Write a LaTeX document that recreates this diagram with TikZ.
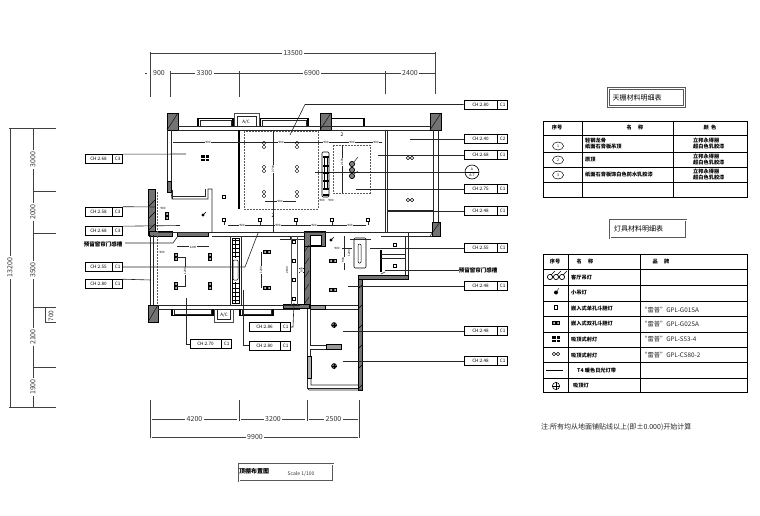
\documentclass[tikz,border=0pt]{standalone}
\usepackage{fontspec}
\setmainfont{Noto Sans CJK SC}
\usetikzlibrary{positioning}
\tikzset{
  tagbox/.style={draw,line width=0.6pt,minimum width=33pt,minimum height=9pt,inner sep=0pt,font=\fontsize{4.6}{5}\selectfont},
  codebox/.style={draw,line width=0.6pt,minimum width=10pt,minimum height=9pt,inner sep=0pt,font=\fontsize{4.6}{5}\selectfont},
  dimtext/.style={fill=white,inner sep=1.5pt,font=\fontsize{7}{8}\selectfont,text=black!80},
  smalldim/.style={fill=white,inner sep=0.4pt,font=\fontsize{3}{3}\selectfont},
  dimline/.style={line width=0.6pt,black!75},
  wallblock/.style={draw,line width=0.5pt,fill=black!55},
  wallline/.style={line width=0.6pt,black!85},
  darkline/.style={line width=1.3pt,black},
  ceilingline/.style={line width=0.7pt,black!65,dashed,dash pattern=on 2pt off 1pt},
  spot/.style={draw,fill=white,line width=1pt,minimum size=3.4pt,inner sep=0pt},
  cell/.style={font=\fontsize{5.2}{6}\selectfont\bfseries,inner sep=0pt,align=left},
  titlebox/.style={draw,black!65,double,double distance=1pt,line width=0.7pt,minimum width=76pt,minimum height=18pt,inner sep=0pt},
  titletext/.style={inner sep=0pt,font=\fontsize{7}{8}\selectfont},
  ringlamp/.pic={\draw[line width=0.4pt] (0,-2) circle (1.8) (0,2) circle (1.8);},
  ringwide/.pic={\draw[line width=0.5pt] (-2,0) circle (1.8) (2,0) circle (1.8);},
  twinlamp/.pic={\fill (-4,-2.2) rectangle (4,2.2);\fill[white] (-2,0) circle (1) (2,0) circle (1);},
  twintall/.pic={\fill (-2.2,-4) rectangle (2.2,4);\fill[white] (0,-2) circle (1) (0,2) circle (1);},
  fourlamp/.pic={\fill (-3.6,-3.2) rectangle (3.6,3.2);\draw[white,line width=0.6pt] (-3.6,0)--(3.6,0) (0,-3.2)--(0,3.2);},
  pendant/.pic={\fill (0,0) circle (1.6);\draw[line width=0.4pt] (0,0)--(3,-3);},
  roundlamp/.pic={\draw[fill=black!60,line width=0.5pt] (0,0) circle (2.5);\draw[black,line width=0.4pt] (-2.5,0)--(2.5,0) (0,-2.5)--(0,2.5);}
}
\begin{document}
\begin{tikzpicture}[x=1pt,y=-1pt]
\useasboundingbox[fill=white] (0,0) rectangle (760,516);
% overall dimensions, top
\draw[dimline] (150.5,52)--(150.5,97);
\draw[dimline] (435.5,52)--(435.5,94);
\draw[dimline] (170,71)--(170,97);
\draw[dimline] (239,71)--(239,97);
\draw[dimline] (385,71)--(385,94);
\draw[dimline] (151,53.5)--(435,53.5) node[dimtext,pos=0.5]{13500};
\draw[dimline] (145,73.5)--(147,73.5);
\node[dimtext] (d900) at (159,73.5){900};
\draw[dimline] (170,73.5)--(239,73.5) node[dimtext,midway]{3300};
\draw[dimline] (239,73.5)--(385,73.5) node[dimtext,midway]{6900};
\draw[dimline] (385,73.5)--(435,73.5) node[dimtext,midway]{2400};
% overall dimensions, left
\draw[dimline] (9,128)--(56,128);
\draw[dimline] (9,407)--(56,407);
\foreach \yy in {191,233,307,367}
  \draw[dimline] (33,\yy)--(56,\yy);
\draw[dimline] (45,322)--(56,322);
\draw[dimline] (45,307)--(45,322);
\draw[dimline] (10,128)--(10,407) node[dimtext,pos=0.5,rotate=90]{13200};
\draw[dimline] (33,128)--(33,191) node[dimtext,midway,rotate=90]{3000};
\draw[dimline] (33,191)--(33,233) node[dimtext,midway,rotate=90]{2000};
\draw[dimline] (33,233)--(33,307) node[dimtext,midway,rotate=90]{3500};
\draw[dimline] (33,307)--(33,367) node[dimtext,midway,rotate=90]{2100};
\draw[dimline] (33,367)--(33,407) node[dimtext,midway,rotate=90]{1900};
\node[rotate=90,inner sep=0pt,font=\fontsize{6.5}{7}\selectfont,text=black!80] (d700) at (51,316){700};
% overall dimensions, bottom
\draw[dimline] (150,400)--(150,438);
\draw[dimline] (239,400)--(239,421);
\draw[dimline] (307,400)--(307,421);
\draw[dimline] (359,400)--(359,438);
\draw[dimline] (152,419)--(237,419) node[dimtext,midway]{4200};
\draw[dimline] (241,419)--(305,419) node[dimtext,midway]{3200};
\draw[dimline] (309,419)--(358,419) node[dimtext,midway]{2500};
\draw[dimline] (152,437)--(358,437) node[dimtext,midway]{9900};
% columns and heavy walls
\foreach \xa/\xb/\ya/\yb in {167/178/113/130,320/331/113/130,430/441/113/130,148/158/305/322,148/155/189/235,432/440/222/236,304/310/236/306,358/362/276/390,149/172/231/236,177/208/232/236,358/408/275/279,304/325/231/246,283/309/304/308}
  \draw[wallblock] (\xa,\yb) rectangle (\xb,\ya);
\draw (167,130)--(178,113) (320,130)--(331,113) (430,130)--(441,113) (148,322)--(158,305) (430,236)--(440,222);
\draw[white,fill=white] (310,235) rectangle (321,245);
\draw[line width=0.5pt] (310,235) rectangle (321,245);
% outer walls
\draw[wallline] (178,126)--(430,126) (178,130)--(320,130) (331,130)--(430,130);
\draw[wallline] (167,130)--(167,181) (171,130)--(171,181);
\draw[wallblock] (167,181) rectangle (171,192);
\draw[wallline] (171,192)--(172,199)--(208,199)--(208,189)--(212,189)--(212,232);
\draw[wallline] (172,190)--(172,199) (173,196)--(205,196)--(205,189);
\draw[wallline] (150,235)--(150,305) (153,235)--(153,305);
\draw[ceilingline] (157,192)--(157,232) (157,236)--(157,305);
\draw[wallline] (158,232)--(381,232) (212,236)--(304,236);
\draw[wallline] (158,305)--(300,305) (158,309)--(300,309);
\draw[wallline] (387,130)--(387,232) (385,130)--(385,232) (433,130)--(433,222) (438,130)--(438,222);
\draw[wallline] (387,210.5)--(433,210.5) (387,236)--(432,236) (381,232)--(432,232);
% windows
\draw[darkline] (198,126)--(198,118.5)--(233,118.5)--(233,126);
\draw[wallline] (200,126)--(200,120)--(231,120)--(231,126);
\draw[darkline] (260,126)--(260,118.5)--(308,118.5)--(308,126);
\draw[wallline] (262,126)--(262,120)--(306,120)--(306,126);
\draw[darkline] (331,118.5)--(364,118.5)--(364,126);
\draw[line width=0.9pt,black!70] (234,126)--(234,113)--(259,113)--(259,126);
\draw[wallline] (237,126)--(237,116)--(256,116)--(256,126);
\node[inner sep=0pt,font=\fontsize{4.5}{5}\selectfont] (ac1) at (246,122){A/C};
\draw[darkline] (172,309)--(172,315.5)--(213,315.5)--(213,309);
\draw[darkline] (240,309)--(240,315.5)--(273,315.5)--(273,309);
\draw[wallline] (174,309)--(174,314)--(211,314)--(211,309) (242,309)--(242,314)--(271,314)--(271,309);
\draw[line width=0.9pt,black!70] (214,309)--(214,322)--(233,322)--(233,309);
\draw[wallline] (217,309)--(217,319)--(230,319)--(230,309);
\node[inner sep=0pt,font=\fontsize{4.5}{5}\selectfont] (ac2) at (224,315){A/C};
% ceiling trays
\draw[darkline,line width=2pt] (239,130)--(239,209);
\draw[ceilingline] (244,131) rectangle (318,209);
\draw[ceilingline] (333,145) rectangle (370,193);
\draw[wallline] (273,130)--(273,232) (342,145)--(342,193);
\draw[wallline] (315,172)--(465,172);
% top room small dims
\draw[wallline] (173,142)--(382,142);
\foreach \xx in {208,281,326,352,376}
  \node[smalldim] at (\xx,142){900};
\draw[wallline] (265,201)--(296,201);
\node[smalldim] at (280,201){900};
\node[smalldim,rotate=90] at (273,169){2700};
\node[smalldim,rotate=90] at (342,162){2100};
\node[inner sep=0pt,font=\fontsize{5}{5}\selectfont] (mark1) at (273,216){2};
\node[inner sep=0pt,font=\fontsize{5}{5}\selectfont] (mark2) at (342,135){2};
% light row at y=220
\draw[wallline] (228,225)--(366,225);
\foreach \xx in {242,278,314,350}
  \node[smalldim] at (\xx,225){900};
\foreach \xx in {224,260,296,332,368}{
  \node[spot] (s\xx) at (\xx,220){};
  \draw[wallline] (s\xx.south)--(\xx,225);
}
\node[spot] (sp1) at (224,197){};
% lamps
\foreach \xx in {264,297}
  \foreach \yy in {145,169,194}
    \pic at (\xx,\yy) {ringlamp};
\foreach \yy in {158,200}
  \pic at (410,\yy) {ringwide};
\pic at (205,158) {fourlamp};
\pic at (167,216) {twintall};
\pic at (203,215) {pendant};
\pic at (331,240) {pendant};
\foreach \xx in {176,210}
  \foreach \yy in {257,286}
    \pic at (\xx,\yy) {twintall};
\foreach \yy in {252,288}
  \pic at (267,\yy) {twinlamp};
\foreach \yy in {261,290}
  \pic at (333,\yy) {twinlamp};
\foreach \yy in {245,266}
  \node[spot] at (395,\yy){};
\foreach \yy in {325,366}
  \pic at (334,\yy) {roundlamp};
\foreach \yy in {164,170,176}
  \draw[fill=black!50,line width=0.7pt] (352,\yy) circle (2.6);
\draw[line width=0.4pt] (354,162)--(358,157) (354,174)--(358,171);
% cove slot in tray
\draw[line width=0.6pt,rounded corners=1pt] (322,152) rectangle (329,197);
\draw[line width=0.4pt] (324,158)--(324,190) (327,158)--(327,190);
\foreach \yy in {156,165,172,180,188,194}
  \fill (322.5,\yy) rectangle (328.5,\yy+1.5);
\node[smalldim] at (322,200){900};
\node[smalldim] at (331,200){900};
% lower left room
\draw[wallline] (176,257)--(185,257)--(185,286)--(176,286);
\node[smalldim,rotate=90] at (185,271){1200};
\draw[wallline] (177,246.5)--(209,246.5);
\node[smalldim] at (193,247){1200};
\node[smalldim] at (162,252){900};
\node[smalldim] at (163,208){900};
\draw[wallline] (230,236)--(230,305) (241,236)--(241,305);
% lobby panels
\draw[line width=0.7pt] (232,238) rectangle (239,303);
\draw[line width=0.5pt,rounded corners=1pt] (233,260) rectangle (238,280);
\foreach \yy in {240,244,248,252,256,283,288,292,296,300}
  \draw[line width=0.8pt] (232,\yy)--(239,\yy);
\draw[line width=0.8pt] (235.5,238)--(235.5,258) (235.5,282)--(235.5,303);
% middle room
\draw[wallline] (261,252)--(261,288);
\node[smalldim,rotate=90] at (261,270){1200};
\draw[wallline] (280,239)--(305,239) (290,236)--(290,239);
\draw[line width=0.9pt,black!70] (291,236)--(291,305) (297,236)--(297,305);
\foreach \yy in {242,261,280,299}
  \node[spot] at (294,\yy){};
\node[smalldim,rotate=90] at (287,270){2100};
\draw[wallline] (299,268)--(304,268) (299,272)--(304,272);
\node[smalldim,rotate=90] at (301.5,270){900};
% right room, cove and wardrobe
\draw[line width=0.6pt,rounded corners=1pt] (354,238) rectangle (366,268);
\draw[line width=0.5pt,rounded corners=1pt] (358,244) rectangle (361,263);
\draw[wallline] (344,236)--(344,270) (350,239)--(371,239) (342,248)--(352,248);
\node[smalldim] at (337,248){900};
\node[smalldim,rotate=90] at (349,253){1200};
\node[smalldim,rotate=90] at (343,260){900};
\draw[wallline] (381,232)--(408,232)--(408,275);
\draw[wallline] (405,236)--(405,275) (381,236)--(405,236);
\draw[darkline,line width=1.4pt] (381,250)--(381,272);
\draw[wallline] (381,254)--(405,254) (381,258)--(405,258);
\draw[wallline] (385,272)--(381,274);
% lower rooms
\draw[wallline] (310,305)--(358,305) (310,309)--(358,309);
\draw[wallblock,fill=black!40] (310,305) rectangle (325,309);
\draw[wallline] (307,309)--(307,388)--(358,388) (310,309)--(310,345)--(341,345);
\draw[wallline] (310,349)--(326,349) (310,349)--(310,356);
\draw[wallblock,fill=black!40] (326,344) rectangle (341,349);
\draw[wallblock,fill=black!30] (307,356) rectangle (311,378);
\draw[wallline] (311,378)--(311,385)--(358,385) (307,388)--(309,390)--(362,390);
% hatch strokes on heavy walls
\foreach \yy in {200,212,224}
  \draw[line width=0.4pt] (149,\yy+6)--(155,\yy);
\foreach \yy in {245,258,271,284,297}
  \draw[line width=0.4pt] (305,\yy+6)--(309,\yy);
\foreach \yy in {285,305,325,345,365,385}
  \draw[line width=0.4pt] (358,\yy+4)--(362,\yy);
% tags on the right
\foreach \n/\yy/\h/\c/\xx in {a/139/2.40/C2/410,b/155/2.68/C1/378,c/189/2.75/C1/356,d/211/2.48/C1/387,e/248/2.55/C1/370,f/286/2.48/C1/348,g/331/2.48/C1/343,h/361/2.48/C1/343}{
  \node[tagbox] (r\n) at (480.5,\yy){CH:\h};
  \node[codebox,right=0pt of r\n] (rc\n){\c};
  \coordinate (rl\n) at (\xx,\yy);
  \draw[wallline] (r\n.west)--(rl\n);
}
\node[tagbox] (rtop) at (480.5,104.5){CH:2.80};
\node[codebox,right=0pt of rtop] (rctop){C1};
\coordinate (rlt) at (290,135);
\draw[wallline] (rtop.west)--(305,104.5)--(rlt);
% tags on the left
\foreach \n/\yy/\h/\c/\xx/\yl in {a/159/2.68/C3/186/154,b/211.5/2.58/C3/155/207,c/231/2.68/C3/180/225.5,e/284/2.80/C1/151/280}{
  \node[tagbox,minimum width=27pt] (l\n) at (98.5,\yy){CH:\h};
  \node[codebox,right=0pt of l\n] (lc\n){\c};
  \coordinate (ll\n) at (\xx,\yl);
  \draw[wallline] (lc\n.north east)--(ll\n);
}
\node[tagbox,minimum width=27pt] (ld) at (98.5,267){CH:2.55};
\node[codebox,right=0pt of ld] (lcd){C1};
\coordinate (lld) at (258,233);
\draw[wallline] (lcd.east)--(245,267)--(lld);
% bottom tags
\node[tagbox,minimum width=31pt] (ba) at (264.5,327){CH:2.86};
\node[codebox,right=0pt of ba] (bca){C1};
\coordinate (bla) at (294,303);
\draw[wallline] (bca.east)--(293,327)--(bla);
\node[tagbox,minimum width=31pt] (bb) at (205.5,344){CH:2.70};
\node[codebox,right=0pt of bb] (bcb){C1};
\coordinate (blb) at (186,298);
\draw[wallline] (bb.west)--(186,344)--(blb);
\node[tagbox,minimum width=31pt] (bc) at (264.5,345.5){CH:2.80};
\node[codebox,right=0pt of bc] (bcc){C1};
\coordinate (blc) at (243,290);
\draw[wallline] (bc.west)--(243,345.5)--(blc);
% curtain box notes
\node[inner sep=0pt,font=\fontsize{5.5}{6.5}\selectfont\bfseries] (nl) at (103,244.5){预留窗帘门感槽};
\coordinate (nle) at (173,243);
\draw[wallline] (125,243)--(nle)--(178,236);
\node[inner sep=0pt,font=\fontsize{5.5}{6.5}\selectfont\bfseries] (nr) at (478,270){预留窗帘门感槽};
\coordinate (nre) at (385,270);
\draw[wallline] (nr.west)--(nre);
% section mark
\draw[line width=0.6pt] (472,172) circle (7);
\draw[line width=0.3pt] (465,172)--(479,172);
\node[inner sep=0pt,font=\fontsize{3.5}{4}\selectfont] (m1) at (472,169.5){A};
\node[inner sep=0pt,font=\fontsize{3.5}{4}\selectfont] (m2) at (472,175){A-7};
% ceiling table
\node[titlebox] (tt1) at (646.5,97.5){};
\node[titletext] (tt1a) at (637,98){天棚材料明细表};
\draw[line width=0.6pt] (543,121) rectangle (747,197);
\draw[line width=0.9pt] (582,121)--(582,197);
\draw[line width=0.9pt] (673,121)--(673,197);
\foreach \yy in {135,152,167,182}
  \draw[line width=0.6pt] (543,\yy)--(747,\yy);
\node[cell] at (557,128){序号};
\node[cell] at (635,128){名 \quad 称};
\node[cell] at (710,128){颜 \ 色};
\foreach \yy/\nn in {146/1,160/2,175/3}{
  \draw[line width=0.5pt] (558,\yy) ellipse (5.5 and 4);
  \node[inner sep=0pt,font=\fontsize{3.5}{4}\selectfont] at (558,\yy){\nn};
}
\node[cell,anchor=west] at (585,143.5){轻钢龙骨\\纸面石膏板吊顶};
\node[cell,anchor=west] at (585,160){原顶};
\node[cell,anchor=west] at (585,174.5){纸面石膏板饰白色防水乳胶漆};
\foreach \yy in {143.5,159.5,175}
  \node[cell,anchor=west] at (693,\yy){立邦永得丽\\超白色乳胶漆};
% lamp table
\node[titlebox] (tt2) at (648,229){};
\node[titletext] (tt2a) at (638.5,229){灯具材料明细表};
\draw[line width=0.6pt] (543,254) rectangle (747,392);
\draw[line width=0.9pt] (568,254)--(568,392);
\draw[line width=0.9pt] (640,254)--(640,392);
\foreach \yy in {269,285,301,316,332,347,362,378}
  \draw[line width=0.6pt] (543,\yy)--(747,\yy);
\node[cell] at (555,261.5){序号};
\node[cell] at (585,262){名 \quad 称};
\node[cell] at (661,262){品 \quad 牌};
\node[cell,anchor=west] at (571,278){客厅吊灯};
\node[cell,anchor=west] at (571,293){小吊灯};
\node[cell,anchor=west] at (571,309){嵌入式单孔斗胆灯};
\node[cell,anchor=west] at (571,324){嵌入式双孔斗胆灯};
\node[cell,anchor=west] at (571,340){吸顶式射灯};
\node[cell,anchor=west] at (571,356){吸顶式射灯};
\node[cell,anchor=west] at (577,371){T4 暖色日光灯带};
\node[cell,anchor=west] at (573,386){吸顶灯};
\foreach \yy/\tt in {310/GPL-G01SA,324.5/GPL-G02SA,339.5/GPL-S53-4,355/GPL-CS80-2}
  \node[anchor=west,inner sep=0pt,font=\fontsize{6.3}{7}\selectfont,text=black!85] at (641,\yy){“雷普”\tt};
% lamp symbols
\foreach \xx in {550,556,562}
  \draw[line width=0.7pt] (\xx,277) circle (2.6);
\draw[line width=0.4pt] (551,275)--(555,271) (557,275)--(561,271) (563,275)--(567,271);
\fill (556,292.5) circle (2);
\draw[line width=0.4pt] (556,292.5)--(559,288);
\node[spot,line width=1.1pt] at (556,307.5){};
\pic at (556,323) {twinlamp};
\pic at (556,339) {fourlamp};
\pic at (556,354) {ringwide};
\draw[line width=0.5pt] (546,370)--(563,370);
\draw[line width=0.6pt] (556,386) circle (3.6);
\draw[line width=0.6pt] (552,386)--(560,386) (556,382)--(556,390);
\node[anchor=west,inner sep=0pt,font=\fontsize{7}{8}\selectfont,text=black!85] (note) at (541,427){注:所有均从地面铺贴线以上(即±0.000)开始计算};
% drawing title
\node[titlebox,minimum width=94pt,minimum height=17pt] (title) at (286,472.5){};
\node[inner sep=0pt,font=\fontsize{6}{7}\selectfont\bfseries] (titlel) at (254,471){顶棚布置图};
\node[inner sep=0pt,font=\fontsize{5}{6}\selectfont,text=black!80] (titler) at (301,474){Scale 1/100};
\end{tikzpicture}
\end{document}
